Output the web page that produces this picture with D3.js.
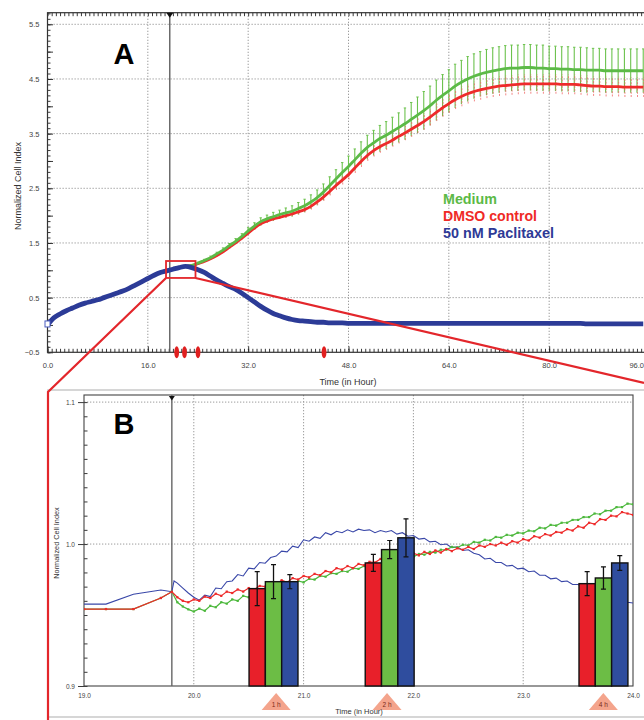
<!DOCTYPE html>
<html><head><meta charset="utf-8">
<script src="https://cdn.jsdelivr.net/npm/d3@7"></script>
<style>
body{margin:0;background:#fff}
svg{display:block}
text{font-family:"Liberation Sans",Arial,sans-serif}
</style>
</head><body>
<svg id="chart" width="644" height="720"></svg>
<script>
// ================= DATA =================
// Panel A: hourly samples 0..95 h
const hoursA = d3.range(0, 96);
const commonA = [0.00,0.13,0.20,0.26,0.31,0.36,0.40,0.43,0.46,0.50,0.54,0.58,0.62,0.67,0.73,0.79,0.85,0.91,0.96,0.99,1.02,1.05];
const mediumA = commonA.concat([1.07,1.09,1.13,1.18,1.23,1.30,1.37,1.45,1.53,1.62,1.72,1.81,1.89,1.94,1.98,2.02,2.05,2.08,2.13,2.18,2.25,2.33,2.43,2.55,2.67,2.79,2.90,3.02,3.14,3.25,3.33,3.41,3.47,3.54,3.61,3.68,3.76,3.84,3.92,4.01,4.11,4.20,4.28,4.37,4.44,4.50,4.55,4.59,4.62,4.65,4.67,4.69,4.70,4.70,4.71,4.71,4.70,4.70,4.69,4.69,4.68,4.68,4.67,4.67,4.66,4.66,4.66,4.65,4.65,4.65,4.65,4.65,4.65,4.65]);
const dmsoA = commonA.concat([1.07,1.08,1.12,1.16,1.21,1.27,1.34,1.42,1.50,1.59,1.68,1.77,1.85,1.90,1.94,1.97,2.00,2.03,2.07,2.11,2.17,2.25,2.34,2.44,2.55,2.65,2.75,2.87,2.99,3.10,3.19,3.26,3.32,3.38,3.45,3.51,3.58,3.65,3.72,3.80,3.89,3.97,4.05,4.12,4.18,4.23,4.27,4.30,4.33,4.35,4.37,4.38,4.39,4.40,4.41,4.41,4.41,4.41,4.41,4.41,4.40,4.40,4.40,4.39,4.38,4.37,4.37,4.36,4.36,4.36,4.35,4.35,4.35,4.35]);
const paclitaxelA = commonA.concat([1.07,1.05,1.01,0.96,0.89,0.82,0.76,0.70,0.65,0.58,0.50,0.42,0.34,0.27,0.21,0.17,0.13,0.10,0.08,0.07,0.06,0.05,0.05,0.04,0.04,0.04,0.03,0.03,0.03,0.03,0.03,0.03,0.03,0.03,0.03,0.03,0.03,0.03,0.03,0.03,0.03,0.03,0.03,0.03,0.03,0.03,0.03,0.03,0.03,0.03,0.03,0.03,0.03,0.03,0.03,0.03,0.03,0.03,0.03,0.03,0.03,0.03,0.03,0.03,0.02,0.02,0.02,0.02,0.02,0.02,0.02,0.02,0.02,0.02]);
// error bar half-widths from 22 h to 95 h
const errStartA = 22;
const mediumErrA = [0.01,0.01,0.02,0.02,0.03,0.03,0.04,0.04,0.05,0.05,0.06,0.06,0.07,0.07,0.08,0.08,
  0.09,0.10,0.11,0.12,0.13,0.14,0.15,0.16,0.17,0.18,0.19,0.20,0.21,0.22,0.23,0.24,0.25,0.26,0.27,
  0.29,0.31,0.33,0.35,0.36,0.37,0.38,0.39,0.40,
  0.40,0.41,0.41,0.41,0.42,0.42,0.42,0.42,0.42,0.42,0.42,0.42,0.42,0.42,0.41,0.41,0.41,0.41,0.41,0.41,0.41,0.40,0.40,0.40,0.40,0.40,0.40,0.40,0.40,0.40];
const dmsoErrA = [0.01,0.01,0.01,0.01,0.02,0.02,0.02,0.02,0.02,0.02,0.03,0.03,0.03,0.03,0.03,0.03,
  0.04,0.04,0.05,0.05,0.06,0.06,0.07,0.07,0.08,0.08,0.09,0.09,0.10,0.10,0.11,0.11,0.12,0.12,0.13,
  0.13,0.14,0.14,0.15,0.15,0.16,0.16,0.17,0.17,
  0.18,0.18,0.18,0.18,0.18,0.18,0.18,0.18,0.18,0.18,0.18,0.18,0.18,0.18,0.18,0.18,0.18,0.18,0.18,0.18,0.18,0.18,0.18,0.18,0.18,0.18,0.18,0.18,0.18,0.18];
const xTicksA = [0,16,32,48,64,80,96];
const yTicksA = [-0.5,0.5,1.5,2.5,3.5,4.5,5.5];
const gridHoursA = [16,32,48,64,80];
const gridValsA = [0.5,1.5,2.5,3.5,4.5,5.5];
const drugTimeA = 19.5;
const markerHoursA = [20.6,21.85,24.0,44.1];
const zoomBox = {t0:18.9, t1:23.6, v0:0.86, v1:1.17};
const legendLabels = ["Medium","DMSO control","50 nM Paclitaxel"];

// Panel B
const preTimesB = [19.0,19.2,19.45,19.7,19.8];
const bluePreB = [0.9577,0.9577,0.9646,0.9676,0.9664];
const blueJumpB = {t:19.82, v:0.9740};
const dmsoPreB = [0.9542,0.9542,0.9542,0.9620,0.9664];
const mediumPreB = [0.9542,0.9542,0.9542,0.9620,0.9664];
const postTimesB = d3.range(0,84).map(i => +(19.85 + i*0.05).toFixed(2));
const paclitaxelB = [0.9725,0.9690,0.9655,0.9625,0.9605,0.9640,0.9630,0.9690,0.9685,0.9735,
 0.9740,0.9785,0.9775,0.9830,0.9825,0.9870,0.9865,0.9905,0.9915,0.9950,
 0.9945,0.9985,0.9975,1.0030,1.0020,1.0050,1.0040,1.0080,1.0065,1.0090,
 1.0080,1.0100,1.0085,1.0105,1.0095,1.0100,1.0080,1.0095,1.0085,1.0095,
 1.0070,1.0080,1.0055,1.0060,1.0035,1.0040,1.0015,1.0020,0.9995,1.0000,
 0.9975,0.9980,0.9955,0.9960,0.9935,0.9925,0.9895,0.9900,0.9870,0.9870,
 0.9845,0.9850,0.9825,0.9830,0.9805,0.9810,0.9780,0.9780,0.9755,0.9760,
 0.9735,0.9740,0.9715,0.9715,0.9695,0.9690,0.9665,0.9665,0.9640,0.9635,
 0.9615,0.9610,0.9590,0.9585];
const dmsoB = [0.9625,0.9600,0.9590,0.9610,0.9600,0.9630,0.9620,0.9650,0.9635,0.9665,
 0.9655,0.9680,0.9665,0.9690,0.9680,0.9705,0.9700,0.9725,0.9715,0.9745,
 0.9730,0.9760,0.9750,0.9775,0.9765,0.9790,0.9780,0.9810,0.9800,0.9830,
 0.9820,0.9845,0.9830,0.9860,0.9850,0.9875,0.9870,0.9895,0.9885,0.9910,
 0.9900,0.9925,0.9910,0.9935,0.9920,0.9945,0.9930,0.9955,0.9940,0.9965,
 0.9950,0.9970,0.9960,0.9980,0.9965,0.9990,0.9980,1.0000,0.9990,1.0010,
 0.9995,1.0020,1.0010,1.0035,1.0025,1.0055,1.0045,1.0070,1.0060,1.0085,
 1.0080,1.0105,1.0095,1.0125,1.0115,1.0150,1.0140,1.0175,1.0170,1.0200,
 1.0195,1.0225,1.0215,1.0205];
const mediumB = [0.9590,0.9560,0.9540,0.9525,0.9545,0.9530,0.9565,0.9555,0.9590,0.9580,
 0.9610,0.9600,0.9635,0.9625,0.9655,0.9650,0.9680,0.9670,0.9700,0.9690,
 0.9720,0.9710,0.9740,0.9730,0.9755,0.9750,0.9775,0.9770,0.9795,0.9790,
 0.9810,0.9805,0.9830,0.9825,0.9845,0.9845,0.9865,0.9860,0.9880,0.9880,
 0.9900,0.9895,0.9915,0.9910,0.9930,0.9925,0.9945,0.9940,0.9960,0.9960,
 0.9980,0.9975,0.9995,0.9990,1.0015,1.0010,1.0030,1.0025,1.0050,1.0045,
 1.0065,1.0060,1.0080,1.0075,1.0095,1.0090,1.0115,1.0110,1.0135,1.0130,
 1.0150,1.0150,1.0170,1.0170,1.0190,1.0190,1.0215,1.0210,1.0235,1.0235,
 1.0260,1.0260,1.0285,1.0280];
// Bars (time after treatment)
const barLabels = ["1 h","2 h","4 h"];
const barTimes = [20.726,21.784,23.731];
const triangleTimes = [20.75,21.76,23.73];
const barSeries = ["DMSO control","Medium","50 nM Paclitaxel"];
const barDmso = [0.9686,0.9867,0.9721];
const barMedium = [0.9735,0.9961,0.9761];
const barPaclitaxel = [0.9735,1.0044,0.9867];
const errDmso = [0.012,0.006,0.0085];
const errMedium = [0.012,0.0064,0.0078];
const errPaclitaxel = [0.005,0.0134,0.0052];
const barWidthH = 0.1485;
const xTicksB = [19,20,21,22,23,24];
const yTicksB = [0.9,1.0,1.1];
const gridHoursB = [20,21,22,23];
const gridValsB = [1.0,1.1];
const drugTimeB = 19.8;

// ================= STYLE =================
const C = {green:"#5cba47", red:"#ee2b2b", blue:"#2c3b97",
           barRed:"#e8202a", barGreen:"#6cbd45", barBlue:"#2f4d9e",
           grid:"#9c9c9c", tri:"#f4a48c"};

const svg = d3.select("#chart");
const W = 644;

// ================= PANEL A =================
const xA = d3.scaleLinear().domain([0,96]).range([47.5,649.5]);
const yA = d3.scaleLinear().domain([-0.5,5.5]).range([352.3,24.3]);
const A_TOP = 12.7, A_BOT = yA(-0.5);
const defs = svg.append("defs");
defs.append("clipPath").attr("id","clipA").append("rect")
  .attr("x",xA(0)).attr("y",A_TOP).attr("width",W-xA(0)).attr("height",A_BOT-A_TOP);

const gA = svg.append("g");
gA.append("g").selectAll("line").data(gridHoursA).join("line")
  .attr("x1",d=>xA(d)).attr("x2",d=>xA(d)).attr("y1",A_TOP).attr("y2",A_BOT)
  .attr("stroke",C.grid).attr("stroke-width",1).attr("stroke-dasharray","1.3,1.7");
gA.append("g").selectAll("line").data(gridValsA).join("line")
  .attr("x1",xA(0)).attr("x2",W).attr("y1",d=>yA(d)).attr("y2",d=>yA(d))
  .attr("stroke",C.grid).attr("stroke-width",1).attr("stroke-dasharray","1.3,1.7");

function styleAxis(g, fs){
  g.select(".domain").remove();
  g.selectAll(".tick line").attr("stroke","#222").attr("stroke-width",0.9);
  g.selectAll(".tick text").attr("fill","#444").style("font-size",fs+"px")
   .style("font-family","'Liberation Sans',Arial,sans-serif");
}
const fmt1 = d3.format(".1f");
// minor ticks
gA.append("g").attr("transform",`translate(0,${A_BOT})`)
  .call(d3.axisBottom(xA).tickValues(d3.range(0,96.01,16/24)).tickSize(-3.5).tickFormat(""))
  .call(g=>styleAxis(g,7));
gA.append("g").attr("transform",`translate(0,${A_TOP})`)
  .call(d3.axisTop(xA).tickValues(d3.range(0,96.01,16/24)).tickSize(-3.5).tickFormat(""))
  .call(g=>styleAxis(g,7));
gA.append("g").attr("transform",`translate(0,${A_BOT})`)
  .call(d3.axisBottom(xA).tickValues(xTicksA).tickSize(-6).tickPadding(10).tickFormat(fmt1))
  .call(g=>styleAxis(g,7.5))
  .call(g=>g.selectAll(".tick text").filter(d=>d===96).attr("text-anchor","end").attr("x",-6));
gA.append("g").attr("transform",`translate(${xA(0)},0)`)
  .call(d3.axisLeft(yA).tickValues(d3.range(-0.5,5.71,0.1)).tickSize(-3).tickFormat(""))
  .call(g=>styleAxis(g,7));
gA.append("g").attr("transform",`translate(${xA(0)},0)`)
  .call(d3.axisLeft(yA).tickValues(d3.range(-0.5,5.71,0.5)).tickSize(-5.5).tickFormat(""))
  .call(g=>styleAxis(g,7));
gA.append("g").attr("transform",`translate(${xA(0)},0)`)
  .call(d3.axisLeft(yA).tickValues(yTicksA).tickSize(0).tickPadding(8).tickFormat(fmt1))
  .call(g=>styleAxis(g,7.5));

// frame
gA.append("rect").attr("x",xA(0)).attr("y",A_TOP).attr("width",xA(96)-xA(0)).attr("height",A_BOT-A_TOP)
  .attr("fill","none").attr("stroke","#333").attr("stroke-width",1.2);

// drug line
gA.append("line").attr("x1",xA(drugTimeA)).attr("x2",xA(drugTimeA)).attr("y1",A_TOP).attr("y2",A_BOT)
  .attr("stroke","#555").attr("stroke-width",1.3);
gA.append("path").attr("d",`M${xA(drugTimeA)-3.5},${A_TOP} L${xA(drugTimeA)+3.5},${A_TOP} L${xA(drugTimeA)},${A_TOP+5} Z`).attr("fill","#111");

// series
const plotA = gA.append("g").attr("clip-path","url(#clipA)");
const lineA = d3.line().x(d=>xA(d[0])).y(d=>yA(d[1])).curve(d3.curveMonotoneX);
const errIdx = d3.range(errStartA, 96);
// error bars
plotA.append("g").selectAll("line").data(errIdx).join("line")
  .attr("x1",h=>xA(h)).attr("x2",h=>xA(h))
  .attr("y1",h=>yA(mediumA[h]-mediumErrA[h-errStartA])).attr("y2",h=>yA(mediumA[h]+mediumErrA[h-errStartA]))
  .attr("stroke","#6cc24d").attr("stroke-width",1.1);
plotA.append("g").selectAll("line").data(errIdx).join("line")
  .attr("x1",h=>xA(h)-1.2).attr("x2",h=>xA(h)+1.2)
  .attr("y1",h=>yA(mediumA[h]+mediumErrA[h-errStartA])).attr("y2",h=>yA(mediumA[h]+mediumErrA[h-errStartA]))
  .attr("stroke","#6cc24d").attr("stroke-width",1);
plotA.append("g").selectAll("line").data(errIdx).join("line")
  .attr("x1",h=>xA(h)+0.5).attr("x2",h=>xA(h)+0.5)
  .attr("y1",h=>yA(dmsoA[h]-dmsoErrA[h-errStartA])).attr("y2",h=>yA(dmsoA[h]+dmsoErrA[h-errStartA]))
  .attr("stroke","#f06262").attr("stroke-width",0.9).attr("stroke-dasharray","2,1.2").attr("opacity",0.85);

plotA.append("path").datum(hoursA.map(h=>[h,dmsoA[h]])).attr("d",lineA)
  .attr("fill","none").attr("stroke",C.red).attr("stroke-width",2.8);
plotA.append("path").datum(hoursA.map(h=>[h,mediumA[h]])).attr("d",lineA)
  .attr("fill","none").attr("stroke",C.green).attr("stroke-width",2.8);
plotA.append("path").datum(hoursA.map(h=>[h,paclitaxelA[h]])).attr("d",lineA)
  .attr("fill","none").attr("stroke",C.blue).attr("stroke-width",4.8);
gA.append("rect").attr("x",xA(0)-2.5).attr("y",yA(paclitaxelA[0])-4).attr("width",5).attr("height",6)
  .attr("fill","#fff").attr("stroke","#4a5cc0").attr("stroke-width",1);

// markers on time axis
gA.append("g").selectAll("ellipse").data(markerHoursA).join("ellipse")
  .attr("cx",d=>xA(d)).attr("cy",A_BOT).attr("rx",2.4).attr("ry",6).attr("fill","#e01f1f");

// legend
const legColors=[C.green,"#ef2a26","#2e3a96"];
const legLen=[54,94,111];
gA.append("g").selectAll("text").data(legendLabels).join("text")
  .attr("x",443).attr("y",(d,i)=>203.5+i*17.3)
  .attr("fill",(d,i)=>legColors[i]).style("font-size","14.5px").style("font-weight","bold")
  .attr("textLength",(d,i)=>legLen[i]).attr("lengthAdjust","spacingAndGlyphs")
  .text(d=>d);

// titles
gA.append("text").attr("x",348).attr("y",384.5).attr("text-anchor","middle")
  .style("font-size","9px").attr("fill","#333").text("Time (in Hour)");
gA.append("text").attr("transform",`translate(20.5,186) rotate(-90)`).attr("text-anchor","middle")
  .style("font-size","9px").attr("fill","#333").text("Normalized Cell Index");
svg.append("text").attr("x",124).attr("y",63.5).attr("text-anchor","middle")
  .style("font-size","29px").style("font-weight","bold").attr("fill","#000").text("A");

// ================= PANEL B =================
const xB = d3.scaleLinear().domain([19,24]).range([84,633]);
const yB = d3.scaleLinear().domain([0.9,1.105]).range([686,395]);
const B_TOP = 395, B_BOT = 686;
// outer panel frame
svg.append("rect").attr("x",48).attr("y",390).attr("width",620).attr("height",327)
  .attr("fill","none").attr("stroke","#c9c9c9").attr("stroke-width",1.5);

defs.append("clipPath").attr("id","clipB").append("rect")
  .attr("x",xB(19)).attr("y",B_TOP).attr("width",xB(24)-xB(19)).attr("height",B_BOT-B_TOP);
const gB = svg.append("g");
gB.append("g").selectAll("line").data(gridHoursB).join("line")
  .attr("x1",d=>xB(d)).attr("x2",d=>xB(d)).attr("y1",B_TOP).attr("y2",B_BOT)
  .attr("stroke",C.grid).attr("stroke-width",1).attr("stroke-dasharray","1.3,1.7");
gB.append("g").selectAll("line").data(gridValsB).join("line")
  .attr("x1",xB(19)).attr("x2",xB(24)).attr("y1",d=>yB(d)).attr("y2",d=>yB(d))
  .attr("stroke",C.grid).attr("stroke-width",1).attr("stroke-dasharray","1.3,1.7");

gB.append("g").attr("transform",`translate(${xB(19)},0)`)
  .call(d3.axisLeft(yB).tickValues(d3.range(0.9,1.1051,0.01)).tickSize(-3.5).tickFormat(""))
  .call(g=>styleAxis(g,7));
gB.append("g").attr("transform",`translate(${xB(19)},0)`)
  .call(d3.axisLeft(yB).tickValues(yTicksB).tickSize(6).tickPadding(3).tickFormat(fmt1))
  .call(g=>styleAxis(g,6.5));
gB.append("g").attr("transform",`translate(0,${B_BOT})`)
  .call(d3.axisBottom(xB).tickValues(xTicksB).tickSize(0).tickPadding(7).tickFormat(fmt1))
  .call(g=>styleAxis(g,6.5));
gB.append("rect").attr("x",xB(19)).attr("y",B_TOP).attr("width",xB(24)-xB(19)).attr("height",B_BOT-B_TOP)
  .attr("fill","none").attr("stroke","#444").attr("stroke-width",1.1);

gB.append("line").attr("x1",xB(drugTimeB)).attr("x2",xB(drugTimeB)).attr("y1",B_TOP).attr("y2",B_BOT)
  .attr("stroke","#666").attr("stroke-width",1.4);
gB.append("path").attr("d",`M${xB(drugTimeB)-3},${B_TOP+1} L${xB(drugTimeB)+3},${B_TOP+1} L${xB(drugTimeB)},${B_TOP+5.5} Z`).attr("fill","#111");

const plotB = gB.append("g").attr("clip-path","url(#clipB)");
const lineB = d3.line().x(d=>xB(d[0])).y(d=>yB(d[1]));
const blueSeries = preTimesB.map((t,i)=>[t,bluePreB[i]]).concat([[blueJumpB.t,blueJumpB.v]]).concat(postTimesB.map((t,i)=>[t,paclitaxelB[i]]));
const greenSeries = preTimesB.map((t,i)=>[t,mediumPreB[i]]).concat(postTimesB.map((t,i)=>[t,mediumB[i]]));
const redSeries = preTimesB.map((t,i)=>[t,dmsoPreB[i]]).concat(postTimesB.map((t,i)=>[t,dmsoB[i]]));

plotB.append("path").datum(blueSeries).attr("d",lineB).attr("fill","none").attr("stroke","#3947a8").attr("stroke-width",1.1);
plotB.append("path").datum(greenSeries).attr("d",lineB).attr("fill","none").attr("stroke","#4cb83c").attr("stroke-width",1.2);
plotB.append("g").selectAll("rect").data(greenSeries).join("rect")
  .attr("x",d=>xB(d[0])-1.1).attr("y",d=>yB(d[1])-1.1).attr("width",2.2).attr("height",2.2).attr("fill","#4cb83c");
plotB.append("path").datum(redSeries).attr("d",lineB).attr("fill","none").attr("stroke","#ee2a2a").attr("stroke-width",1.2);
plotB.append("g").selectAll("rect").data(redSeries).join("rect")
  .attr("x",d=>xB(d[0])-1.1).attr("y",d=>yB(d[1])-1.1).attr("width",2.2).attr("height",2.2).attr("fill","#ee2a2a");

// bars
const barVals = [barDmso, barMedium, barPaclitaxel];
const barErrs = [errDmso, errMedium, errPaclitaxel];
const barCols = [C.barRed, C.barGreen, C.barBlue];
const groupW = xB(19 + 3*barWidthH) - xB(19);
const x1 = d3.scaleBand().domain(barSeries).range([0, groupW]);
const barData = [];
barTimes.forEach((t,gi)=>{
  barSeries.forEach((s,si)=>{
    barData.push({t, s, si, v:barVals[si][gi], e:barErrs[si][gi]});
  });
});
const bars = gB.append("g");
bars.selectAll("rect").data(barData).join("rect")
  .attr("x",d=>xB(d.t)-groupW/2+x1(d.s)).attr("width",x1.bandwidth())
  .attr("y",d=>yB(d.v)).attr("height",d=>yB(0.9)-yB(d.v))
  .attr("fill",d=>barCols[d.si]).attr("stroke","#111").attr("stroke-width",1.4);
const ex = d=>xB(d.t)-groupW/2+x1(d.s)+x1.bandwidth()/2;
bars.append("g").selectAll("line").data(barData).join("line")
  .attr("x1",ex).attr("x2",ex).attr("y1",d=>yB(d.v-d.e)).attr("y2",d=>yB(d.v+d.e))
  .attr("stroke","#111").attr("stroke-width",1.3);
bars.append("g").selectAll("path").data(barData).join("path")
  .attr("d",d=>`M${ex(d)-2.5},${yB(d.v+d.e)}H${ex(d)+2.5}M${ex(d)-2.5},${yB(d.v-d.e)}H${ex(d)+2.5}`)
  .attr("stroke","#111").attr("stroke-width",1.2);

// triangles
const tri = gB.append("g").selectAll("g").data(barLabels).join("g")
  .attr("transform",(d,i)=>`translate(${xB(triangleTimes[i])},0)`);
tri.append("path").attr("d","M0,693 L14.5,710 L-14.5,710 Z").attr("fill",C.tri);
tri.append("text").attr("x",0).attr("y",706.5).attr("text-anchor","middle")
  .style("font-size","6.5px").attr("fill","#7a2a18").text(d=>d);

gB.append("text").attr("x",359).attr("y",713.5).attr("text-anchor","middle")
  .style("font-size","7.5px").attr("fill","#333").text("Time (in Hour)");
gB.append("text").attr("transform",`translate(59,543) rotate(-90)`).attr("text-anchor","middle")
  .style("font-size","7.3px").attr("fill","#333").text("Normalized Cell Index");
svg.append("text").attr("x",124).attr("y",433.5).attr("text-anchor","middle")
  .style("font-size","29px").style("font-weight","bold").attr("fill","#000").text("B");

// ================= ZOOM CONNECTORS =================
const zx0 = xA(zoomBox.t0), zx1 = xA(zoomBox.t1), zy0 = yA(zoomBox.v1), zy1 = yA(zoomBox.v0);
const conn = svg.append("g").attr("stroke","#e3262b").attr("fill","none").attr("stroke-width",2.2);
conn.append("rect").attr("x",zx0).attr("y",zy0).attr("width",zx1-zx0).attr("height",zy1-zy0).attr("stroke-width",1.8);
conn.append("path").attr("d",`M${zx0},${zy1} L48,392 L48,720`).attr("stroke-linejoin","miter");
conn.append("path").attr("d",`M${zx1},${zy1} L644,383`);
</script>
</body></html>
